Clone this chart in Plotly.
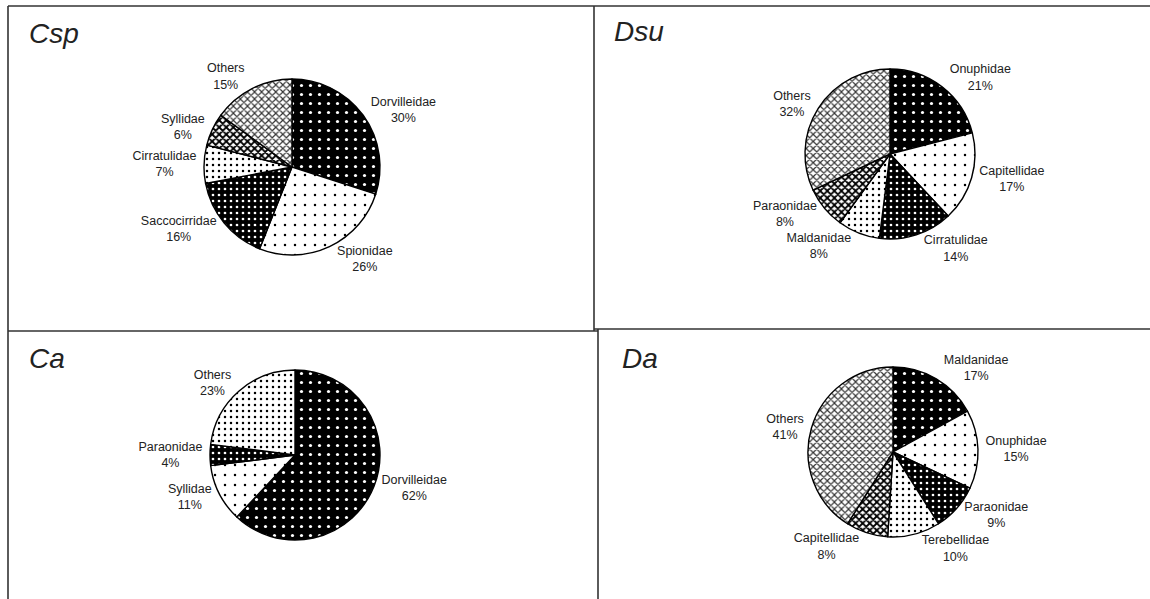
import plotly.graph_objects as go

W, H = 1150, 599

# ---- data ----
csp_labels = ["Dorvilleidae", "Spionidae", "Saccocirridae", "Cirratulidae", "Syllidae", "Others"]
csp_values = [30, 26, 16, 7, 6, 15]

dsu_labels = ["Onuphidae", "Capitellidae", "Cirratulidae", "Maldanidae", "Paraonidae", "Others"]
dsu_values = [21, 17, 14, 8, 8, 32]

ca_labels = ["Dorvilleidae", "Syllidae", "Paraonidae", "Others"]
ca_values = [62, 11, 4, 23]

da_labels = ["Maldanidae", "Onuphidae", "Paraonidae", "Terebellidae", "Capitellidae", "Others"]
da_values = [17, 15, 9, 10, 8, 41]

panel_titles = ["Csp", "Dsu", "Ca", "Da"]

# ---- styles (pattern per slice role) ----
STY = {
    "blackdots": dict(shape=".", bg="black", fg="white", size=9, sol=0.1),
    "whitedots": dict(shape=".", bg="white", fg="black", size=10, sol=0.05),
    "blackdense": dict(shape=".", bg="black", fg="white", size=6, sol=0.16),
    "whitedense": dict(shape=".", bg="white", fg="black", size=6, sol=0.14),
    "darkx": dict(shape="x", bg="white", fg="black", size=5, sol=0.6),
    "lightx": dict(shape="x", bg="white", fg="#333333", size=5, sol=0.42),
}

csp_sty = ["blackdots", "whitedots", "blackdense", "whitedense", "darkx", "lightx"]
dsu_sty = ["blackdots", "whitedots", "blackdense", "whitedense", "darkx", "lightx"]
ca_sty = ["blackdots", "whitedots", "blackdense", "whitedense"]
da_sty = ["blackdots", "whitedots", "blackdense", "whitedense", "darkx", "lightx"]

# pie centers (px) and radius
pies = [
    (csp_labels, csp_values, csp_sty, 292, 167, 88),
    (dsu_labels, dsu_values, dsu_sty, 890, 154, 85),
    (ca_labels, ca_values, ca_sty, 295, 455, 85),
    (da_labels, da_values, da_sty, 893, 452, 85),
]

fig = go.Figure()
for labels, values, sty, cx, cy, r in pies:
    s = [STY[k] for k in sty]
    fig.add_trace(go.Pie(
        labels=labels, values=values, sort=False, direction="clockwise", rotation=0,
        domain=dict(x=[(cx - r) / W, (cx + r) / W], y=[1 - (cy + r) / H, 1 - (cy - r) / H]),
        textposition="outside",
        texttemplate="%{label}<br>%{value}%",
        textfont=dict(family="Liberation Sans, Arial", size=12.5, color="#222222"),
        marker=dict(
            colors=[d["bg"] for d in s],
            line=dict(color="black", width=1.4),
            pattern=dict(
                shape=[d["shape"] for d in s],
                bgcolor=[d["bg"] for d in s],
                fgcolor=[d["fg"] for d in s],
                size=[d["size"] for d in s],
                solidity=[d["sol"] for d in s],
                fillmode="replace",
            ),
        ),
        showlegend=False,
        hoverinfo="label+value",
    ))

# panel borders
def px2paper(x, y):
    return x / W, 1 - y / H

lines = [
    ((8, 6), (1150, 6)),
    ((8, 6), (8, 599)),
    ((594, 6), (594, 331)),
    ((8, 331), (598, 331)),
    ((594, 329), (1150, 329)),
    ((598, 329), (598, 599)),
]
for (x0, y0), (x1, y1) in lines:
    a = px2paper(x0, y0)
    b = px2paper(x1, y1)
    fig.add_shape(type="line", xref="paper", yref="paper", x0=a[0], y0=a[1], x1=b[0], y1=b[1],
                  line=dict(color="#333333", width=1.6))

title_pos = [(27, 33), (612, 31), (27, 358), (620, 358)]
for t, (x, y) in zip(panel_titles, title_pos):
    px, py = px2paper(x, y)
    fig.add_annotation(text=t, x=px, y=py, xref="paper", yref="paper", xanchor="left", yanchor="middle",
                       showarrow=False,
                       font=dict(family="Liberation Sans, Arial", size=28, color="#222222", style="italic"))

fig.update_layout(width=W, height=H, margin=dict(l=0, r=0, t=0, b=0),
                  paper_bgcolor="white", plot_bgcolor="white")
fig.write_html("out.html", config={"displayModeBar": False},
               post_script="document.body.style.margin='0';document.body.style.overflow='hidden';")
